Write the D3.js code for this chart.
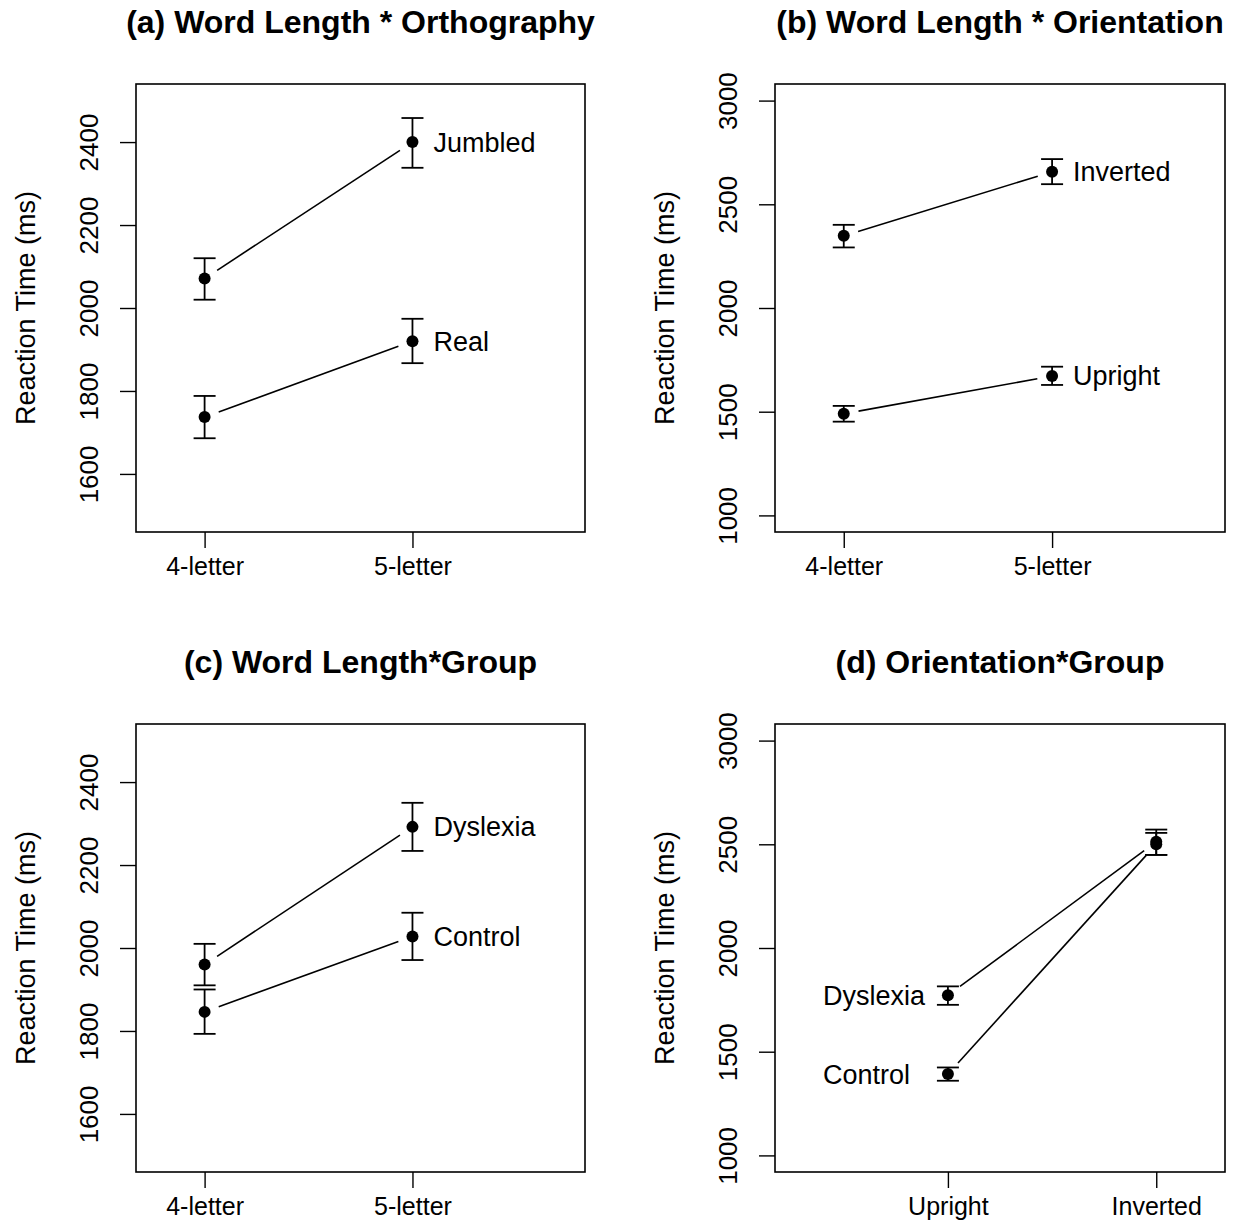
<!DOCTYPE html>
<html>
<head>
<meta charset="utf-8">
<script src="https://cdn.jsdelivr.net/npm/d3@7"></script>
<style>
  body { margin: 0; background: #fff; }
  svg { display: block; }
  text { font-family: "Liberation Sans", Arial, sans-serif; fill: #000; }
</style>
</head>
<body>
<div id="chart"></div>
<script>
// ---- data -----------------------------------------------------------------
const panelTitles = [
  '(a) Word Length * Orthography',
  '(b) Word Length * Orientation',
  '(c) Word Length*Group',
  '(d) Orientation*Group'
];
const lengthLevels = ['4-letter', '5-letter'];
const orientLevels = ['Upright', 'Inverted'];
const ticksNarrow = [1600, 1800, 2000, 2200, 2400];
const ticksWide = [1000, 1500, 2000, 2500, 3000];

// (a) word length x orthography
const jumbledMean = [2071, 2400], jumbledLo = [2020, 2338], jumbledHi = [2120, 2458];
const realMean = [1737, 1920], realLo = [1686, 1867], realHi = [1788, 1974];
// (b) word length x orientation
const invertedMean = [2348, 2657], invertedLo = [2292, 2597], invertedHi = [2401, 2718];
const uprightMean = [1490, 1672], uprightLo = [1452, 1629], uprightHi = [1528, 1717];
// (c) word length x group
const dysLenMean = [1960, 2292], dysLenLo = [1910, 2234], dysLenHi = [2010, 2350];
const conLenMean = [1846, 2028], conLenLo = [1793, 1971], conLenHi = [1900, 2085];
// (d) orientation x group
const dysOriMean = [1772, 2512], dysOriLo = [1726, 2449], dysOriHi = [1815, 2571];
const conOriMean = [1392, 2500], conOriLo = [1360, 2449], conOriHi = [1424, 2555];

// ---- layout ---------------------------------------------------------------
const W = 1238, H = 1222;
const colLeft = [136, 775], colWidth = [449, 450];
const rowTop = [84, 724], boxH = 448;

const panels = [
  { levels: lengthLevels, xDom: [0.67, 2.83], yDom: [1460, 2540], ticks: ticksNarrow, labelSide: 'right',
    series: [
      { name: 'Jumbled', mean: jumbledMean, lo: jumbledLo, hi: jumbledHi },
      { name: 'Real', mean: realMean, lo: realLo, hi: realHi }
    ] },
  { levels: lengthLevels, xDom: [0.67, 2.83], yDom: [920, 3080], ticks: ticksWide, labelSide: 'right',
    series: [
      { name: 'Inverted', mean: invertedMean, lo: invertedLo, hi: invertedHi },
      { name: 'Upright', mean: uprightMean, lo: uprightLo, hi: uprightHi }
    ] },
  { levels: lengthLevels, xDom: [0.67, 2.83], yDom: [1460, 2540], ticks: ticksNarrow, labelSide: 'right',
    series: [
      { name: 'Dyslexia', mean: dysLenMean, lo: dysLenLo, hi: dysLenHi },
      { name: 'Control', mean: conLenMean, lo: conLenLo, hi: conLenHi }
    ] },
  { levels: orientLevels, xDom: [0.17, 2.33], yDom: [920, 3080], ticks: ticksWide, labelSide: 'left',
    series: [
      { name: 'Dyslexia', mean: dysOriMean, lo: dysOriLo, hi: dysOriHi },
      { name: 'Control', mean: conOriMean, lo: conOriLo, hi: conOriHi }
    ] }
];

const svg = d3.select('#chart').append('svg')
  .attr('width', W).attr('height', H)
  .attr('viewBox', `0 0 ${W} ${H}`);

panels.forEach((p, i) => {
  const col = i % 2, row = Math.floor(i / 2);
  const w = colWidth[col], h = boxH;
  const g = svg.append('g')
    .attr('transform', `translate(${colLeft[col]},${rowTop[row]})`);

  const x = d3.scaleLinear().domain(p.xDom).range([0, w]);
  const y = d3.scaleLinear().domain(p.yDom).range([h, 0]);

  // title
  g.append('text')
    .attr('x', w / 2).attr('y', -51)
    .attr('text-anchor', 'middle')
    .attr('font-size', '32px').attr('font-weight', 'bold')
    .text(panelTitles[i]);

  // y axis (R style: labels parallel to the axis)
  const ya = g.append('g')
    .call(d3.axisLeft(y).tickValues(p.ticks).tickFormat(d3.format('d'))
      .tickSize(16).tickSizeOuter(0));
  ya.select('.domain').remove();
  ya.selectAll('.tick line').attr('stroke', '#000').attr('stroke-width', 1.4);
  ya.selectAll('.tick text')
    .attr('x', 0).attr('dy', null).attr('y', -38)
    .attr('transform', 'rotate(-90)')
    .attr('text-anchor', 'middle')
    .attr('font-size', '26px')
    .attr('fill', '#000');

  // x axis
  const xa = g.append('g')
    .attr('transform', `translate(0,${h})`)
    .call(d3.axisBottom(x).tickValues([1, 2]).tickFormat((d, k) => p.levels[k])
      .tickSize(16).tickSizeOuter(0));
  xa.select('.domain').remove();
  xa.selectAll('.tick line').attr('stroke', '#000').attr('stroke-width', 1.4);
  xa.selectAll('.tick text')
    .attr('dy', null).attr('y', 43)
    .attr('font-size', '25px')
    .attr('fill', '#000');

  // y title
  g.append('text')
    .attr('transform', `translate(-101,${h / 2}) rotate(-90)`)
    .attr('text-anchor', 'middle')
    .attr('font-size', '27px')
    .text('Reaction Time (ms)');

  // box
  g.append('rect')
    .attr('x', 0).attr('y', 0).attr('width', w).attr('height', h)
    .attr('fill', 'none').attr('stroke', '#000').attr('stroke-width', 1.6);

  const gap = 15, cap = 11;
  p.series.forEach(s => {
    const pts = s.mean.map((m, k) => [x(k + 1), y(m)]);

    // connecting line with gaps around the points (type = "b")
    const [x1, y1] = pts[0], [x2, y2] = pts[1];
    const len = Math.hypot(x2 - x1, y2 - y1);
    const ux = (x2 - x1) / len, uy = (y2 - y1) / len;
    g.append('line')
      .attr('x1', x1 + ux * gap).attr('y1', y1 + uy * gap)
      .attr('x2', x2 - ux * gap).attr('y2', y2 - uy * gap)
      .attr('stroke', '#000').attr('stroke-width', 1.6);

    // error bars
    s.mean.forEach((m, k) => {
      const cx = x(k + 1);
      g.append('line')
        .attr('x1', cx).attr('x2', cx)
        .attr('y1', y(s.lo[k])).attr('y2', y(s.hi[k]))
        .attr('stroke', '#000').attr('stroke-width', 1.8);
      [s.lo[k], s.hi[k]].forEach(v => {
        g.append('line')
          .attr('x1', cx - cap).attr('x2', cx + cap)
          .attr('y1', y(v)).attr('y2', y(v))
          .attr('stroke', '#000').attr('stroke-width', 1.8);
      });
      g.append('circle')
        .attr('cx', cx).attr('cy', y(m)).attr('r', 6)
        .attr('fill', '#000');
    });

    // series label
    const lx = p.labelSide === 'right' ? x(2) + 21 : x(1) - 125;
    const ly = p.labelSide === 'right' ? y(s.mean[1]) : y(s.mean[0]);
    g.append('text')
      .attr('x', lx).attr('y', ly).attr('dy', '0.35em')
      .attr('font-size', '27px')
      .text(s.name);
  });
});
</script>
</body>
</html>
